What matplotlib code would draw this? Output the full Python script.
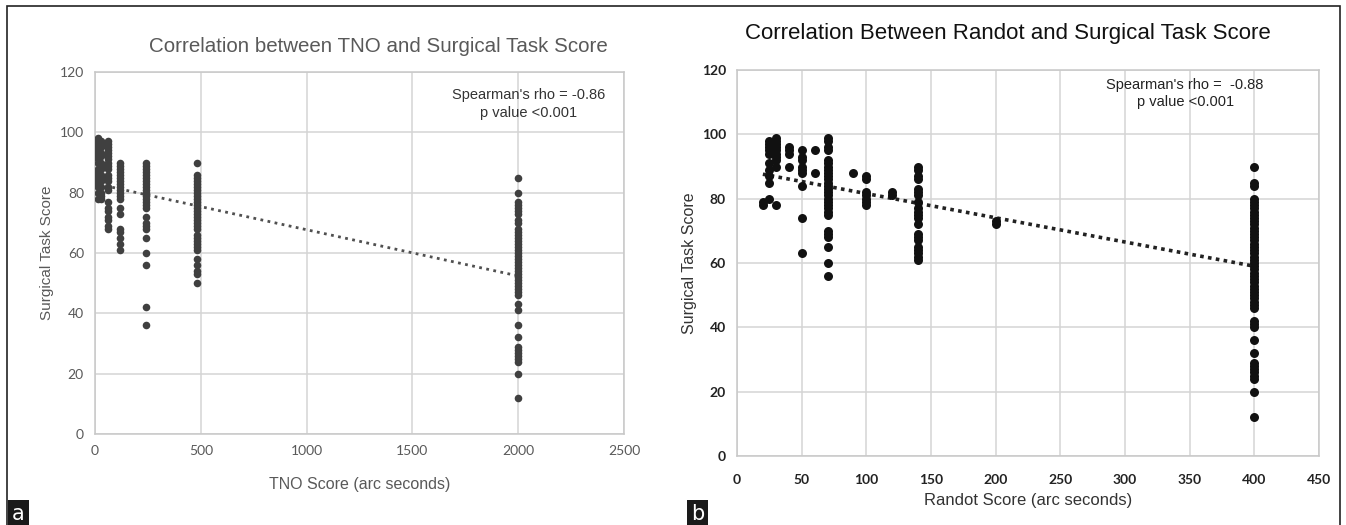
import numpy as np
import matplotlib.pyplot as plt
from matplotlib.patches import Rectangle

# panel a: TNO score levels and the surgical task scores seen at each level
tno_levels = [15, 30, 60, 120, 240, 480, 2000]
tno_scores = [
    [98, 97, 96, 95, 94, 93, 92, 91, 90, 88, 87, 86, 85, 84, 83, 82, 80, 78],
    [97, 96, 95, 93, 92, 90, 89, 88, 86, 85, 84, 82, 80, 79, 78],
    [97, 96, 95, 94, 93, 92, 91, 90, 89, 88, 86, 85, 84, 82, 81, 77, 75, 74, 72, 71, 69, 68],
    [90, 89, 88, 87, 86, 85, 84, 83, 82, 81, 80, 79, 78, 75, 73, 68, 67, 65, 63, 61],
    [90, 89, 88, 87, 86, 85, 84, 83, 82, 81, 80, 79, 78, 77, 76, 75, 72, 70, 69, 68,
     65, 60, 56, 42, 36],
    [90, 86, 85, 84, 83, 82, 81, 80, 79, 78, 77, 76, 75, 74, 73, 72, 71, 70, 69, 68,
     66, 65, 64, 63, 62, 61, 58, 56, 54, 53, 50],
    [85, 80, 77, 76, 75, 74, 73, 71, 70, 68, 67, 66, 65, 64, 63, 62, 61, 60, 59, 58,
     57, 56, 55, 54, 53, 52, 51, 50, 49, 48, 47, 46, 43, 41, 36, 32, 29, 28, 27, 26,
     25, 24, 20, 12],
]
tno_trend_x = [15, 2000]
tno_trend_y = [82.8, 52.4]

# panel b: Randot score levels
randot_levels = [20, 25, 30, 40, 50, 60, 70, 90, 100, 120, 140, 200, 400]
randot_scores = [
    [78, 79],
    [98, 97, 96, 95, 94, 91, 89, 87, 85, 80],
    [99, 98, 97, 96, 95, 94, 93, 92, 90, 78],
    [96, 95, 94, 90],
    [95, 93, 92, 90, 89, 88, 84, 74, 63],
    [95, 88],
    [99, 98, 96, 95, 92, 91, 90, 89, 88, 87, 86, 85, 84, 83, 82, 81, 80, 79, 78, 77,
     76, 75, 70, 69, 68, 65, 60, 56],
    [88],
    [87, 86, 82, 81, 80, 79, 78],
    [82, 81],
    [90, 89, 87, 86, 83, 82, 81, 79, 77, 76, 75, 74, 72, 69, 68, 67, 65, 64, 63, 62, 61],
    [72, 73],
    [90, 85, 84, 80, 79, 78, 77, 76, 75, 74, 73, 72, 71, 70, 69, 68, 67, 66, 65, 64,
     63, 62, 61, 60, 59, 58, 57, 56, 55, 54, 53, 52, 51, 50, 49, 48, 47, 46, 42, 41,
     40, 36, 32, 29, 28, 27, 26, 25, 24, 20, 12],
]
randot_trend_x = [20, 400]
randot_trend_y = [87.6, 59.0]

W, H = 1346, 525


def px_rect(x0, y0, x1, y1):
    return [x0 / W, (H - y1) / H, (x1 - x0) / W, (y1 - y0) / H]


def flatten(levels, scores):
    xs, ys = [], []
    for lv, sc in zip(levels, scores):
        xs += [lv] * len(sc)
        ys += sc
    return xs, ys


def style_axes(ax, xmax, xstep, color, tick_size, tick_weight, xpad):
    ax.set_ylim(0, 120)
    ax.set_yticks(range(0, 121, 20))
    ax.set_xlim(0, xmax)
    ax.set_xticks(range(0, xmax + 1, xstep))
    ax.grid(True, color="#d4d4d4", linewidth=1.1)
    ax.set_axisbelow(True)
    for sp in ax.spines.values():
        sp.set_color("#c8c8c8")
        sp.set_linewidth(1.1)
    ax.tick_params(length=0, colors=color, labelsize=tick_size)
    ax.tick_params(axis="x", pad=xpad)
    ax.tick_params(axis="y", pad=8)
    for lab in ax.get_xticklabels() + ax.get_yticklabels():
        lab.set_fontfamily("Lato")
        lab.set_fontweight(tick_weight)


plt.rcParams["font.family"] = ["Liberation Sans", "DejaVu Sans"]
fig = plt.figure(figsize=(W / 100, H / 100), dpi=100)

# panel a
ax1 = fig.add_axes(px_rect(95, 72, 624, 434))
gray = "#595959"
x, y = flatten(tno_levels, tno_scores)
ax1.scatter(x, y, s=30, color="#404040", zorder=3, linewidths=0)
ax1.plot(tno_trend_x, tno_trend_y, linestyle=(0, (1, 1.6)), color="#505050",
         linewidth=2.0, zorder=2)
style_axes(ax1, 2500, 500, gray, 10, "normal", 8)
ax1.set_xlabel("TNO Score (arc seconds)", color=gray, fontsize=11.5, labelpad=14)
ax1.set_ylabel("Surgical Task Score", color=gray, fontsize=11, labelpad=4)
ax1.text(0.82, 0.912, "Spearman's rho = -0.86\np value <0.001", transform=ax1.transAxes,
         ha="center", va="center", fontsize=10.5, color="#333333", linespacing=1.3)
fig.text(378 / W, 1 - 46 / H, "Correlation between TNO and Surgical Task Score",
         ha="center", va="center", fontsize=14.8, color=gray)

# panel b
ax2 = fig.add_axes(px_rect(737, 70, 1319, 456))
x, y = flatten(randot_levels, randot_scores)
ax2.scatter(x, y, s=42, color="#111111", zorder=3, linewidths=0)
ax2.plot(randot_trend_x, randot_trend_y, linestyle=(0, (1, 1.2)), color="#222222",
         linewidth=2.6, zorder=2)
style_axes(ax2, 450, 50, "#222222", 10, "bold", 13)
ax2.set_xlabel("Randot Score (arc seconds)", color="#333333", fontsize=12, labelpad=5)
ax2.set_ylabel("Surgical Task Score", color="#333333", fontsize=11.5, labelpad=3)
ax2.text(0.77, 0.94, "Spearman's rho =  -0.88\np value <0.001", transform=ax2.transAxes,
         ha="center", va="center", fontsize=10.5, color="#222222", linespacing=1.3)
fig.text(1008 / W, 1 - 33 / H, "Correlation Between Randot and Surgical Task Score",
         ha="center", va="center", fontsize=16, color="#111111")

# outer frame and panel letters
fig.add_artist(Rectangle((7 / W, -0.05), (1340 - 7) / W, 1.05 - 6 / H,
                         transform=fig.transFigure, fill=False, edgecolor="#222222",
                         linewidth=1.2, clip_on=False))
for lx, letter in [(7, "a"), (686, "b")]:
    fig.text((lx + 11.5) / W, 1 - 514 / H, letter, ha="center", va="center", fontsize=15,
             color="white", family="DejaVu Sans",
             bbox=dict(boxstyle="square,pad=0.18", facecolor="#1a1a1a", edgecolor="none"))

fig.savefig("out.png", dpi=100)
